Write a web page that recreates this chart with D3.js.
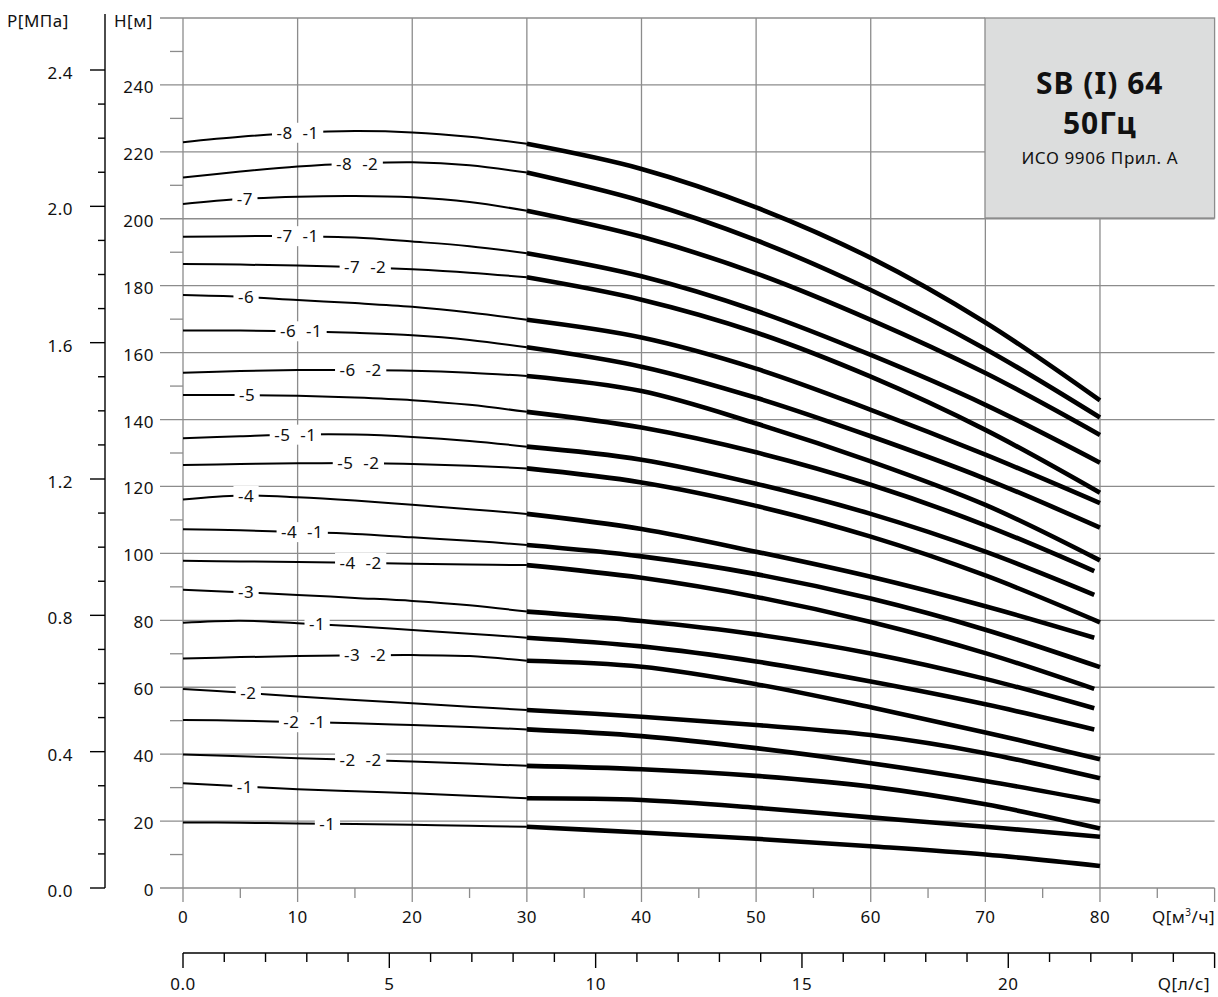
<!DOCTYPE html>
<html><head><meta charset="utf-8">
<script src="https://cdn.jsdelivr.net/npm/d3@7"></script>
<style>
html,body{margin:0;padding:0;background:#fff;}
text{font-family:"Noto Sans",sans-serif;fill:#111;letter-spacing:0.5px;}
</style></head>
<body>
<script>
// ---- data ----
const qFlow = [0, 5, 10, 15, 20, 25, 30, 40, 50, 60, 70, 80];           // Q [m3/h]
const curveLabels = ["-8  -1","-8  -2","-7","-7  -1","-7  -2","-6","-6  -1","-6  -2","-5","-5  -1","-5  -2",
                     "-4","-4  -1","-4  -2","-3","-1","-3  -2","-2","-2  -1","-2  -2","-1","-1"];
const labelQ = [10, 15.2, 5.4, 10, 15.9, 5.5, 10.3, 15.5, 5.6, 9.8, 15.3, 5.5, 10.4, 15.5, 5.5, 11.7, 15.9, 5.7, 10.6, 15.5, 5.4, 12.6];
const qLast = [80,80,80,80,80,80,80,80,79.5,79.5,80,79.5,80,79.5,79.5,79.5,80,80,80,80,80,80];
const h_8_1 = [222.9,224.5,225.7,226.2,225.8,224.5,222.4,214.9,203.4,188.3,169.0,145.7];
const h_8_2 = [212.3,214.1,215.6,216.5,216.9,216.0,213.8,205.3,193.6,178.7,161.1,140.6];
const h_7   = [204.4,205.9,206.6,206.8,206.4,205.0,202.4,194.6,183.7,169.8,153.9,135.4];
const h_7_1 = [194.6,194.8,194.8,194.4,193.2,191.8,189.7,182.8,172.5,159.3,144.4,127.1];
const h_7_2 = [186.5,186.3,186.0,185.6,184.9,183.9,182.5,175.8,166.0,152.8,136.9,118.1];
const h_6   = [177.2,176.7,175.7,174.8,173.7,172.0,169.8,164.5,155.2,142.9,129.5,115.0];
const h_6_1 = [166.6,166.6,166.4,165.9,165.2,163.8,161.6,155.8,146.5,135.0,122.3,107.7];
const h_6_2 = [154.0,154.5,154.8,154.8,154.6,154.0,153.0,148.5,138.8,127.5,114.5,97.9];
const h_5   = [147.3,147.3,147.1,146.6,145.8,144.4,142.3,137.6,130.2,120.5,108.4,94.7];
const h_5_1 = [134.4,135.0,135.5,135.5,134.8,133.6,131.9,128.0,120.8,111.8,100.5,87.6];
const h_5_2 = [126.4,126.7,126.9,127.0,126.7,126.2,125.4,121.2,114.2,105.0,93.4,79.4];
const h_4   = [116.1,117.3,116.8,115.8,114.5,113.2,111.8,107.3,100.5,93.0,84.2,74.8];
const h_4_1 = [107.2,106.9,106.4,105.8,104.8,103.8,102.5,99.1,93.8,86.5,77.2,66.0];
const h_4_2 = [97.8,97.6,97.4,97.2,96.9,96.7,96.5,92.7,87.0,79.5,70.2,59.5];
const h_3   = [89.1,88.4,87.6,86.7,85.8,84.5,82.6,79.8,75.8,70.1,62.5,53.7];
const h_3_1 = [79.3,79.9,79.1,78.2,77.1,76.0,74.8,72.2,67.7,61.7,54.9,47.4];
const h_3_2 = [68.6,69.0,69.3,69.5,69.6,69.3,67.9,66.1,60.9,54.0,46.5,38.5];
const h_2   = [59.5,58.4,57.2,56.2,55.2,54.2,53.2,51.2,48.7,45.7,40.3,32.8];
const h_2_1 = [50.2,50.0,49.6,49.2,48.7,48.1,47.4,45.4,41.8,37.3,32.0,25.8];
const h_2_2 = [39.9,39.4,38.8,38.3,37.8,37.2,36.5,35.5,33.5,30.3,25.0,17.8];
const h_1_1 = [31.3,30.4,29.5,28.9,28.3,27.6,26.8,26.3,24.0,21.1,18.3,15.3];
const h_1_2 = [19.6,19.5,19.3,19.1,18.9,18.6,18.3,16.6,14.7,12.5,10.0,6.6];
const headSeries = [h_8_1,h_8_2,h_7,h_7_1,h_7_2,h_6,h_6_1,h_6_2,h_5,h_5_1,h_5_2,h_4,h_4_1,h_4_2,h_3,h_3_1,h_3_2,h_2,h_2_1,h_2_2,h_1_1,h_1_2];

const qTicks = [0,10,20,30,40,50,60,70,80];
const hTicks = [0,20,40,60,80,100,120,140,160,180,200,220,240];
const pTicks = [0.0,0.4,0.8,1.2,1.6,2.0,2.4];
const lsTicks = [0,5,10,15,20];
const lsLabels = ["0.0","5","10","15","20"];
const titleLines = ["SB (I) 64","50Гц","ИСО 9906 Прил. A"];

// ---- scales ----
const W = 1218, H = 997;
const x = d3.scaleLinear().domain([0, 90]).range([183, 1214.6]);
const y = d3.scaleLinear().domain([0, 260]).range([888, 18]);
const p = d3.scaleLinear().domain([0, 2.4]).range([888, 70]);
const xl = d3.scaleLinear().domain([0, 25]).range([x(0), x(90)]);

const svg = d3.select("body").append("svg").attr("width", W).attr("height", H);
const grid = "#8c8c8c";
const FS = 17;

// horizontal grid
svg.append("g").selectAll("line").data(d3.range(0, 261, 20)).join("line")
  .attr("x1", 160).attr("x2", d => d === 260 ? 985 : x(90))
  .attr("y1", d => y(d)).attr("y2", d => y(d))
  .attr("stroke", grid).attr("stroke-width", 1.3);
// minor H ticks
svg.append("g").selectAll("line").data(d3.range(10, 251, 20)).join("line")
  .attr("x1", 170).attr("x2", x(0)).attr("y1", d => y(d)).attr("y2", d => y(d))
  .attr("stroke", grid).attr("stroke-width", 1.3);
// vertical grid
svg.append("g").selectAll("line").data(qTicks).join("line")
  .attr("x1", d => x(d)).attr("x2", d => x(d))
  .attr("y1", d => d >= 70 ? 218 : 18).attr("y2", 902)
  .attr("stroke", grid).attr("stroke-width", 1.3);
svg.append("line").attr("x1", x(90)).attr("x2", x(90)).attr("y1", 888).attr("y2", 902).attr("stroke", grid).attr("stroke-width", 1.3);
// minor Q ticks
svg.append("g").selectAll("line").data(d3.range(5, 90, 10)).join("line")
  .attr("x1", d => x(d)).attr("x2", d => x(d)).attr("y1", 888).attr("y2", 898)
  .attr("stroke", grid).attr("stroke-width", 1.3);

// title box
svg.append("rect").attr("x", 985).attr("y", 18).attr("width", x(90) - 985).attr("height", 200)
  .attr("fill", "#dcdddd").attr("stroke", grid).attr("stroke-width", 1.3);
const tcx = (985 + x(90)) / 2;
svg.append("text").attr("x", tcx).attr("y", 94).attr("text-anchor", "middle")
  .attr("font-size", 30).attr("font-weight", "bold").style("letter-spacing", "1px").text(titleLines[0]);
svg.append("text").attr("x", tcx).attr("y", 134).attr("text-anchor", "middle")
  .attr("font-size", 30).attr("font-weight", "bold").style("letter-spacing", "1px").text(titleLines[1]);
svg.append("text").attr("x", tcx).attr("y", 164).attr("text-anchor", "middle")
  .attr("font-size", 17).style("letter-spacing", "0.6px").text(titleLines[2]);

// curves
const lineGen = d3.line().x(d => x(d[0])).y(d => y(d[1])).curve(d3.curveCatmullRom.alpha(0.5));
const gCurves = svg.append("g");
headSeries.forEach((hs, i) => {
  const pts = qFlow.map((q, j) => [j === qFlow.length - 1 ? qLast[i] : q, hs[j]]);
  const thin = pts.filter(d => d[0] <= 30);
  const thick = pts.filter(d => d[0] >= 30);
  gCurves.append("path").attr("d", lineGen(thin)).attr("fill", "none")
    .attr("stroke", "#000").attr("stroke-width", 2);
  gCurves.append("path").attr("d", lineGen(thick)).attr("fill", "none")
    .attr("stroke", "#000").attr("stroke-width", 4.6);
});

// labels on curves
const gLab = svg.append("g");
headSeries.forEach((hs, i) => {
  const q = labelQ[i];
  const hv = d3.scaleLinear().domain(qFlow.slice(0, 7)).range(hs.slice(0, 7))(q);
  const t = gLab.append("text").attr("x", x(q)).attr("y", y(hv) + 6)
    .attr("text-anchor", "middle").attr("font-size", FS)
    .style("white-space", "pre").text(curveLabels[i]);
  const bb = t.node().getBBox();
  gLab.insert("rect", () => t.node())
    .attr("x", bb.x - 4.5).attr("y", y(hv) - 10).attr("width", bb.width + 9).attr("height", 20)
    .attr("fill", "#fff");
});

// H axis labels
svg.append("g").selectAll("text").data(hTicks).join("text")
  .attr("x", 154).attr("y", d => y(d) + 8).attr("text-anchor", "end").attr("font-size", FS)
  .text(d => d);
svg.append("text").attr("x", 114).attr("y", 27).attr("font-size", FS).text("H[м]");

// P axis
svg.append("line").attr("x1", 105).attr("x2", 105).attr("y1", 14).attr("y2", 888)
  .attr("stroke", "#000").attr("stroke-width", 1.4);
svg.append("g").selectAll("line").data(d3.range(0, 25).map(d => d / 10)).join("line")
  .attr("x1", d => (Math.round(d * 10) % 4 === 0) ? 90 : 98).attr("x2", 105)
  .attr("y1", d => p(d)).attr("y2", d => p(d))
  .attr("stroke", "#000").attr("stroke-width", 1.4);
svg.append("g").selectAll("text").data(pTicks).join("text")
  .attr("x", 73).attr("y", d => p(d) + 9).attr("text-anchor", "end").attr("font-size", FS)
  .text(d => d.toFixed(1));
svg.append("text").attr("x", 7).attr("y", 27).attr("font-size", FS).text("P[МПа]");

// Q axis labels (m3/h)
svg.append("g").selectAll("text").data(qTicks).join("text")
  .attr("x", d => x(d)).attr("y", 923).attr("text-anchor", "middle").attr("font-size", FS)
  .text(d => d);
const qt = svg.append("text").attr("x", 1215).attr("y", 923).attr("text-anchor", "end").attr("font-size", FS);
qt.append("tspan").text("Q[м");
qt.append("tspan").attr("font-size", 10).attr("dy", -7).text("3");
qt.append("tspan").attr("dy", 7).text("/ч]");

// l/s axis
svg.append("line").attr("x1", xl(0)).attr("x2", xl(25)).attr("y1", 953).attr("y2", 953)
  .attr("stroke", "#000").attr("stroke-width", 1.4);
svg.append("g").selectAll("line").data(d3.range(0, 26)).join("line")
  .attr("x1", d => xl(d)).attr("x2", d => xl(d)).attr("y1", 953)
  .attr("y2", d => d % 5 === 0 ? 968 : 962)
  .attr("stroke", "#000").attr("stroke-width", 1.4);
svg.append("g").selectAll("text").data(lsTicks).join("text")
  .attr("x", d => xl(d)).attr("y", 990).attr("text-anchor", "middle").attr("font-size", FS)
  .text((d, i) => lsLabels[i]);
svg.append("text").attr("x", 1210).attr("y", 990).attr("text-anchor", "end").attr("font-size", FS).text("Q[л/с]");
</script>
</body></html>
